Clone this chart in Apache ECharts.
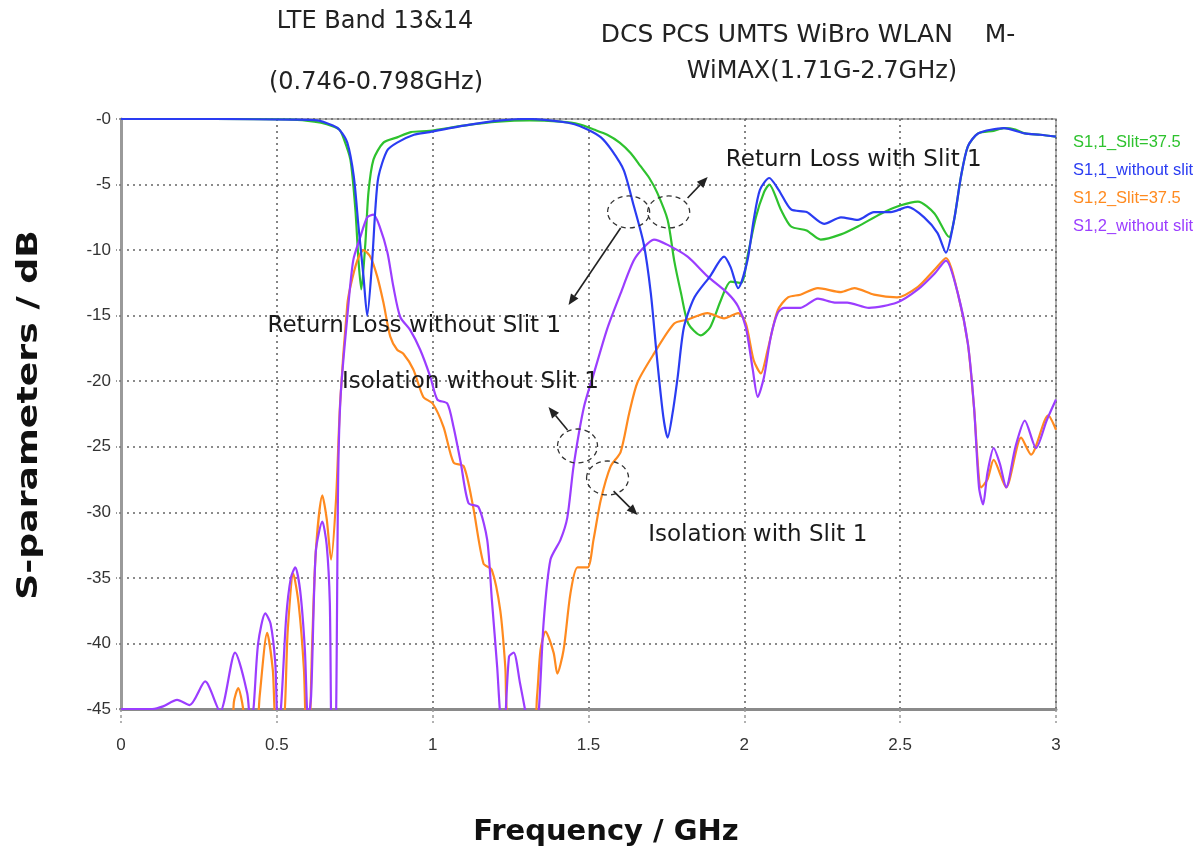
<!DOCTYPE html>
<html>
<head>
<meta charset="utf-8">
<script src="https://cdn.jsdelivr.net/npm/echarts@6/dist/echarts.min.js"></script>
<style>
html,body{margin:0;padding:0;background:#fff;}
#c{width:1201px;height:856px;}
</style>
</head>
<body>
<div id="c"></div>
<script>
// ---------------- data ----------------
const seriesNames = ['S1,1_Slit=37.5', 'S1,1_without slit', 'S1,2_Slit=37.5', 'S1,2_without slit'];
const xTickValues = [0, 0.5, 1, 1.5, 2, 2.5, 3];
const yTickValues = [0, -5, -10, -15, -20, -25, -30, -35, -40, -45];
const xAxisTitle = 'Frequency / GHz';
const yAxisTitle = 'S-parameters / dB';

// [frequency GHz, dB]
const s11Slit = [
  [0,0],[0.3,0],[0.55,-0.05],[0.62,-0.2],[0.66,-0.4],[0.70,-0.8],[0.713,-1.4],[0.736,-3.1],
  [0.752,-6.9],[0.762,-10.8],[0.771,-13.0],[0.784,-9.5],[0.794,-5.6],[0.81,-3.1],[0.842,-1.8],
  [0.886,-1.4],[0.93,-1.0],[0.99,-0.9],[1.10,-0.5],[1.21,-0.2],[1.31,-0.1],[1.41,-0.2],[1.47,-0.4],
  [1.517,-0.8],[1.56,-1.2],[1.60,-1.8],[1.635,-2.6],[1.667,-3.6],[1.695,-4.5],[1.72,-5.6],
  [1.754,-7.7],[1.775,-10.8],[1.797,-13.3],[1.82,-15.6],[1.86,-16.5],[1.89,-15.9],[1.925,-13.8],
  [1.956,-12.4],[1.99,-12.5],[2.01,-10.5],[2.037,-7.5],[2.063,-5.6],[2.08,-5.0],[2.117,-6.9],
  [2.15,-8.2],[2.2,-8.5],[2.245,-9.2],[2.31,-8.8],[2.364,-8.2],[2.44,-7.2],[2.5,-6.6],[2.557,-6.3],
  [2.61,-7.2],[2.657,-9.0],[2.673,-7.7],[2.695,-4.4],[2.717,-2.1],[2.75,-1.1],[2.8,-0.9],
  [2.833,-0.7],[2.87,-0.8],[2.9,-1.1],[2.95,-1.2],[3.0,-1.35]
];
const s11NoSlit = [
  [0,0],[0.3,0],[0.55,-0.05],[0.63,-0.1],[0.68,-0.5],[0.70,-0.8],[0.726,-1.8],[0.747,-4.4],
  [0.762,-8.2],[0.778,-12.0],[0.79,-15.0],[0.806,-10.8],[0.816,-6.9],[0.826,-4.4],[0.854,-2.4],
  [0.886,-1.8],[0.94,-1.2],[0.99,-1.0],[1.10,-0.5],[1.22,-0.1],[1.31,0],[1.41,-0.2],[1.455,-0.4],
  [1.497,-0.8],[1.54,-1.4],[1.575,-2.4],[1.613,-3.9],[1.645,-6.6],[1.677,-9.5],[1.70,-13.3],
  [1.72,-18.3],[1.74,-22.7],[1.754,-24.3],[1.77,-22.4],[1.786,-19.7],[1.806,-15.9],[1.84,-13.6],
  [1.89,-12.0],[1.935,-10.5],[1.956,-11.3],[1.98,-12.9],[2.01,-10.8],[2.03,-7.7],[2.05,-5.4],
  [2.08,-4.5],[2.11,-5.4],[2.15,-6.9],[2.2,-7.1],[2.256,-8.0],[2.31,-7.5],[2.364,-7.7],
  [2.416,-7.1],[2.47,-7.1],[2.525,-6.7],[2.577,-7.5],[2.62,-8.7],[2.647,-10.2],[2.673,-7.7],
  [2.695,-4.4],[2.717,-2.1],[2.75,-1.1],[2.833,-0.7],[2.9,-1.1],[2.95,-1.2],[3.0,-1.35]
];
const s12Slit = [
  [0,-50],[0.35,-50],[0.362,-44.5],[0.376,-43.4],[0.392,-45],[0.40,-48],[0.43,-48],[0.445,-44],
  [0.469,-39.2],[0.487,-42],[0.498,-46],[0.52,-46],[0.535,-39],[0.553,-34.7],[0.57,-37],
  [0.587,-42],[0.595,-47],[0.603,-47],[0.613,-40.3],[0.625,-33],[0.646,-28.7],[0.66,-30.5],
  [0.674,-33.6],[0.69,-29],[0.703,-21.7],[0.726,-14.2],[0.736,-12.8],[0.758,-10.8],[0.778,-10.0],
  [0.8,-10.5],[0.822,-12.0],[0.842,-14.0],[0.864,-16.6],[0.886,-17.6],[0.906,-17.9],[0.938,-19.1],
  [0.97,-21.2],[1.0,-21.7],[1.035,-23.5],[1.067,-26.2],[1.1,-26.5],[1.13,-29.6],[1.163,-33.9],
  [1.19,-34.4],[1.217,-37.5],[1.233,-41.8],[1.242,-46],[1.32,-47],[1.335,-44],[1.346,-40.5],
  [1.362,-39.1],[1.388,-40.7],[1.40,-42.3],[1.42,-40.5],[1.442,-36.2],[1.465,-34.2],[1.497,-34.2],
  [1.516,-32.1],[1.539,-29.1],[1.571,-26.5],[1.603,-25.4],[1.63,-22.5],[1.657,-20.1],[1.71,-17.9],
  [1.775,-15.6],[1.818,-15.3],[1.882,-14.8],[1.935,-15.2],[1.98,-14.8],[2.005,-15.6],[2.03,-18.4],
  [2.053,-19.4],[2.075,-17.6],[2.107,-14.6],[2.14,-13.6],[2.18,-13.4],[2.236,-12.9],[2.31,-13.2],
  [2.353,-12.9],[2.416,-13.4],[2.49,-13.6],[2.557,-12.8],[2.61,-11.5],[2.647,-10.6],[2.685,-13.3],
  [2.717,-17.1],[2.737,-22],[2.76,-28.1],[2.78,-27.5],[2.8,-26.0],[2.84,-28.1],[2.888,-24.3],
  [2.92,-25.6],[2.975,-22.6],[3.0,-23.7]
];
const s12NoSlit = [
  [0,-45],[0.1,-45],[0.135,-44.8],[0.18,-44.3],[0.22,-44.7],[0.27,-42.9],[0.318,-45.2],
  [0.366,-40.7],[0.405,-43.8],[0.415,-46],[0.425,-45],[0.44,-40],[0.463,-37.7],[0.48,-38.5],
  [0.495,-41.5],[0.503,-46],[0.513,-45],[0.53,-38],[0.545,-35],[0.559,-34.2],[0.575,-36],
  [0.59,-40.5],[0.60,-46],[0.61,-44],[0.625,-33],[0.646,-30.7],[0.66,-32.5],[0.67,-36.9],
  [0.677,-48],[0.687,-48],[0.697,-27],[0.705,-21],[0.726,-15.1],[0.745,-10.8],[0.768,-9.0],
  [0.79,-7.5],[0.81,-7.3],[0.83,-8.2],[0.855,-10.2],[0.874,-12.8],[0.896,-15.1],[0.928,-16.1],
  [0.96,-17.6],[0.993,-19.7],[1.015,-21.4],[1.047,-21.7],[1.067,-23.5],[1.09,-26.2],[1.115,-29.3],
  [1.147,-29.6],[1.175,-32.1],[1.19,-36.7],[1.207,-41.8],[1.217,-45.5],[1.228,-47],[1.245,-41.0],
  [1.26,-40.7],[1.28,-43.0],[1.30,-45.5],[1.32,-48],[1.338,-46],[1.356,-38.4],[1.378,-33.6],
  [1.41,-32.1],[1.432,-30.4],[1.452,-26.5],[1.485,-22.0],[1.516,-19.5],[1.56,-16.0],[1.603,-13.3],
  [1.645,-10.8],[1.677,-9.8],[1.71,-9.2],[1.754,-9.6],[1.818,-10.5],[1.882,-12.0],[1.947,-13.3],
  [1.98,-14.3],[2.005,-15.9],[2.027,-19.1],[2.043,-21.2],[2.063,-19.7],[2.085,-16.6],[2.107,-14.8],
  [2.127,-14.4],[2.18,-14.4],[2.236,-13.7],[2.29,-14.0],[2.33,-14.0],[2.4,-14.4],[2.49,-14.0],
  [2.557,-13.0],[2.61,-11.8],[2.647,-10.8],[2.685,-13.3],[2.717,-17.1],[2.737,-22],[2.753,-28.1],
  [2.766,-29.4],[2.78,-27],[2.8,-25.1],[2.82,-26.3],[2.84,-28.1],[2.87,-25],[2.9,-23.0],
  [2.936,-25.1],[2.97,-23],[3.0,-21.4]
];

// ---------------- styles ----------------
const colors = ['#2ec22e', '#2a3cf2', '#ff8a1f', '#9b3dff'];
const tickFont = "'Liberation Sans', Arial, sans-serif";
const annFont = '23px "DejaVu Sans", sans-serif';
const titleFont = 'bold 29px "DejaVu Sans", sans-serif';

const chart = echarts.init(document.getElementById('c'));
const seriesData = [s11Slit, s11NoSlit, s12Slit, s12NoSlit];
const drawOrder = [0, 2, 3, 1];

chart.setOption({
  animation: false,
  backgroundColor: '#ffffff',
  grid: { left: 121, right: 145, top: 119, bottom: 147, show: true, borderColor: '#9a9a9a', borderWidth: 1.5 },
  legend: {
    orient: 'vertical', left: 1063, top: 127, icon: 'none', itemWidth: 0, itemHeight: 20, itemGap: 9.5,
    selectedMode: false,
    textStyle: { fontFamily: tickFont, fontSize: 16.5 },
    data: seriesNames.map((n, i) => ({ name: n, textStyle: { color: colors[i] } }))
  },
  xAxis: {
    type: 'value', min: xTickValues[0], max: xTickValues[xTickValues.length - 1], interval: 0.5,
    axisLine: { onZero: false, lineStyle: { color: '#8a8a8a', width: 3 } },
    axisTick: { show: true, length: 14, lineStyle: { color: '#999', type: [3, 3], width: 1.5 } },
    axisLabel: { margin: 28, fontFamily: tickFont, fontSize: 17, color: '#333', formatter: v => String(v) },
    splitLine: { show: true, lineStyle: { color: '#666', type: [2, 4], width: 1.6 } }
  },
  yAxis: {
    type: 'value', min: yTickValues[yTickValues.length - 1], max: yTickValues[0], interval: 5,
    axisLine: { onZero: false, lineStyle: { color: '#9a9a9a', width: 3 } },
    axisTick: { show: true, length: 5, lineStyle: { color: '#777', type: [2, 2], width: 1.5 } },
    axisLabel: { margin: 10, fontFamily: tickFont, fontSize: 17, color: '#333',
      formatter: v => (v === 0 ? '-0' : String(v)) },
    splitLine: { show: true, lineStyle: { color: '#666', type: [2, 4], width: 1.6 } }
  },
  series: drawOrder.map(i => ({
    name: seriesNames[i], type: 'line', data: seriesData[i], showSymbol: false, symbol: 'none',
    smooth: 0.25, clip: true, lineStyle: { color: colors[i], width: 2.2 }, itemStyle: { color: colors[i] }
  }))
});

// ---------------- annotations (anchored in data space) ----------------
const P = p => chart.convertToPixel({ gridIndex: 0 }, p);
const annTexts = [
  { text: 'Return Loss with Slit 1', at: [2.351, -3.13] },
  { text: 'Return Loss without Slit 1', at: [0.941, -15.79] },
  { text: 'Isolation without Slit 1', at: [1.121, -20.06] },
  { text: 'Isolation with Slit 1', at: [2.043, -31.73] }
];
const annEllipses = [
  { at: [1.6287, -7.09], rx: 21, ry: 16 },
  { at: [1.7572, -7.09], rx: 21, ry: 16 },
  { at: [1.4648, -24.94], rx: 20, ry: 17 },
  { at: [1.5612, -27.38], rx: 21, ry: 17 }
];
const annArrows = [
  { from: [1.818, -6.03], to: [1.8824, -4.42] },
  { from: [1.603, -8.31], to: [1.436, -14.19] },
  { from: [1.4327, -23.72], to: [1.3717, -21.97] },
  { from: [1.5805, -28.38], to: [1.6576, -30.21] }
];
const headerTexts = [
  { text: 'LTE Band 13&14', x: 375, y: 22, size: 24 },
  { text: '(0.746-0.798GHz)', x: 376, y: 83, size: 24 },
  { text: 'DCS PCS UMTS WiBro WLAN    M-', x: 808, y: 35, size: 25 },
  { text: 'WiMAX(1.71G-2.7GHz)', x: 822, y: 72, size: 24 }
];

const g = [];
headerTexts.forEach(t => g.push({
  type: 'text', x: t.x, y: t.y, silent: true,
  style: { text: t.text, font: t.size + 'px "DejaVu Sans", sans-serif', fill: '#222', align: 'center', verticalAlign: 'middle' }
}));
// axis titles
g.push({ type: 'text', x: 606, y: 832, silent: true,
  style: { text: xAxisTitle, font: titleFont, fill: '#111', align: 'center', verticalAlign: 'middle' } });
g.push({ type: 'text', x: 29, y: 415, rotation: Math.PI / 2, scaleX: 1.25, silent: true,
  style: { text: yAxisTitle, font: titleFont, fill: '#111', align: 'center', verticalAlign: 'middle' } });

annTexts.forEach(t => {
  const p = P(t.at);
  g.push({ type: 'text', x: p[0], y: p[1], silent: true, z: 10,
    style: { text: t.text, font: annFont, fill: '#1a1a1a', align: 'center', verticalAlign: 'middle' } });
});
annEllipses.forEach(e => {
  const p = P(e.at);
  g.push({ type: 'ellipse', silent: true, z: 10, shape: { cx: p[0], cy: p[1], rx: e.rx, ry: e.ry },
    style: { fill: 'none', stroke: '#333', lineWidth: 1.3, lineDash: [5, 4] } });
});
annArrows.forEach(a => {
  const s = P(a.from), e = P(a.to);
  const ang = Math.atan2(e[1] - s[1], e[0] - s[0]);
  const L = 11, W = 4.5;
  const bx = e[0] - L * Math.cos(ang), by = e[1] - L * Math.sin(ang);
  const l = [bx + W * Math.sin(ang), by - W * Math.cos(ang)];
  const r = [bx - W * Math.sin(ang), by + W * Math.cos(ang)];
  g.push({ type: 'line', silent: true, z: 10, shape: { x1: s[0], y1: s[1], x2: bx, y2: by },
    style: { stroke: '#222', lineWidth: 1.6 } });
  g.push({ type: 'polygon', silent: true, z: 10, shape: { points: [e, l, r] }, style: { fill: '#222' } });
});
chart.setOption({ graphic: g });
</script>
</body>
</html>
